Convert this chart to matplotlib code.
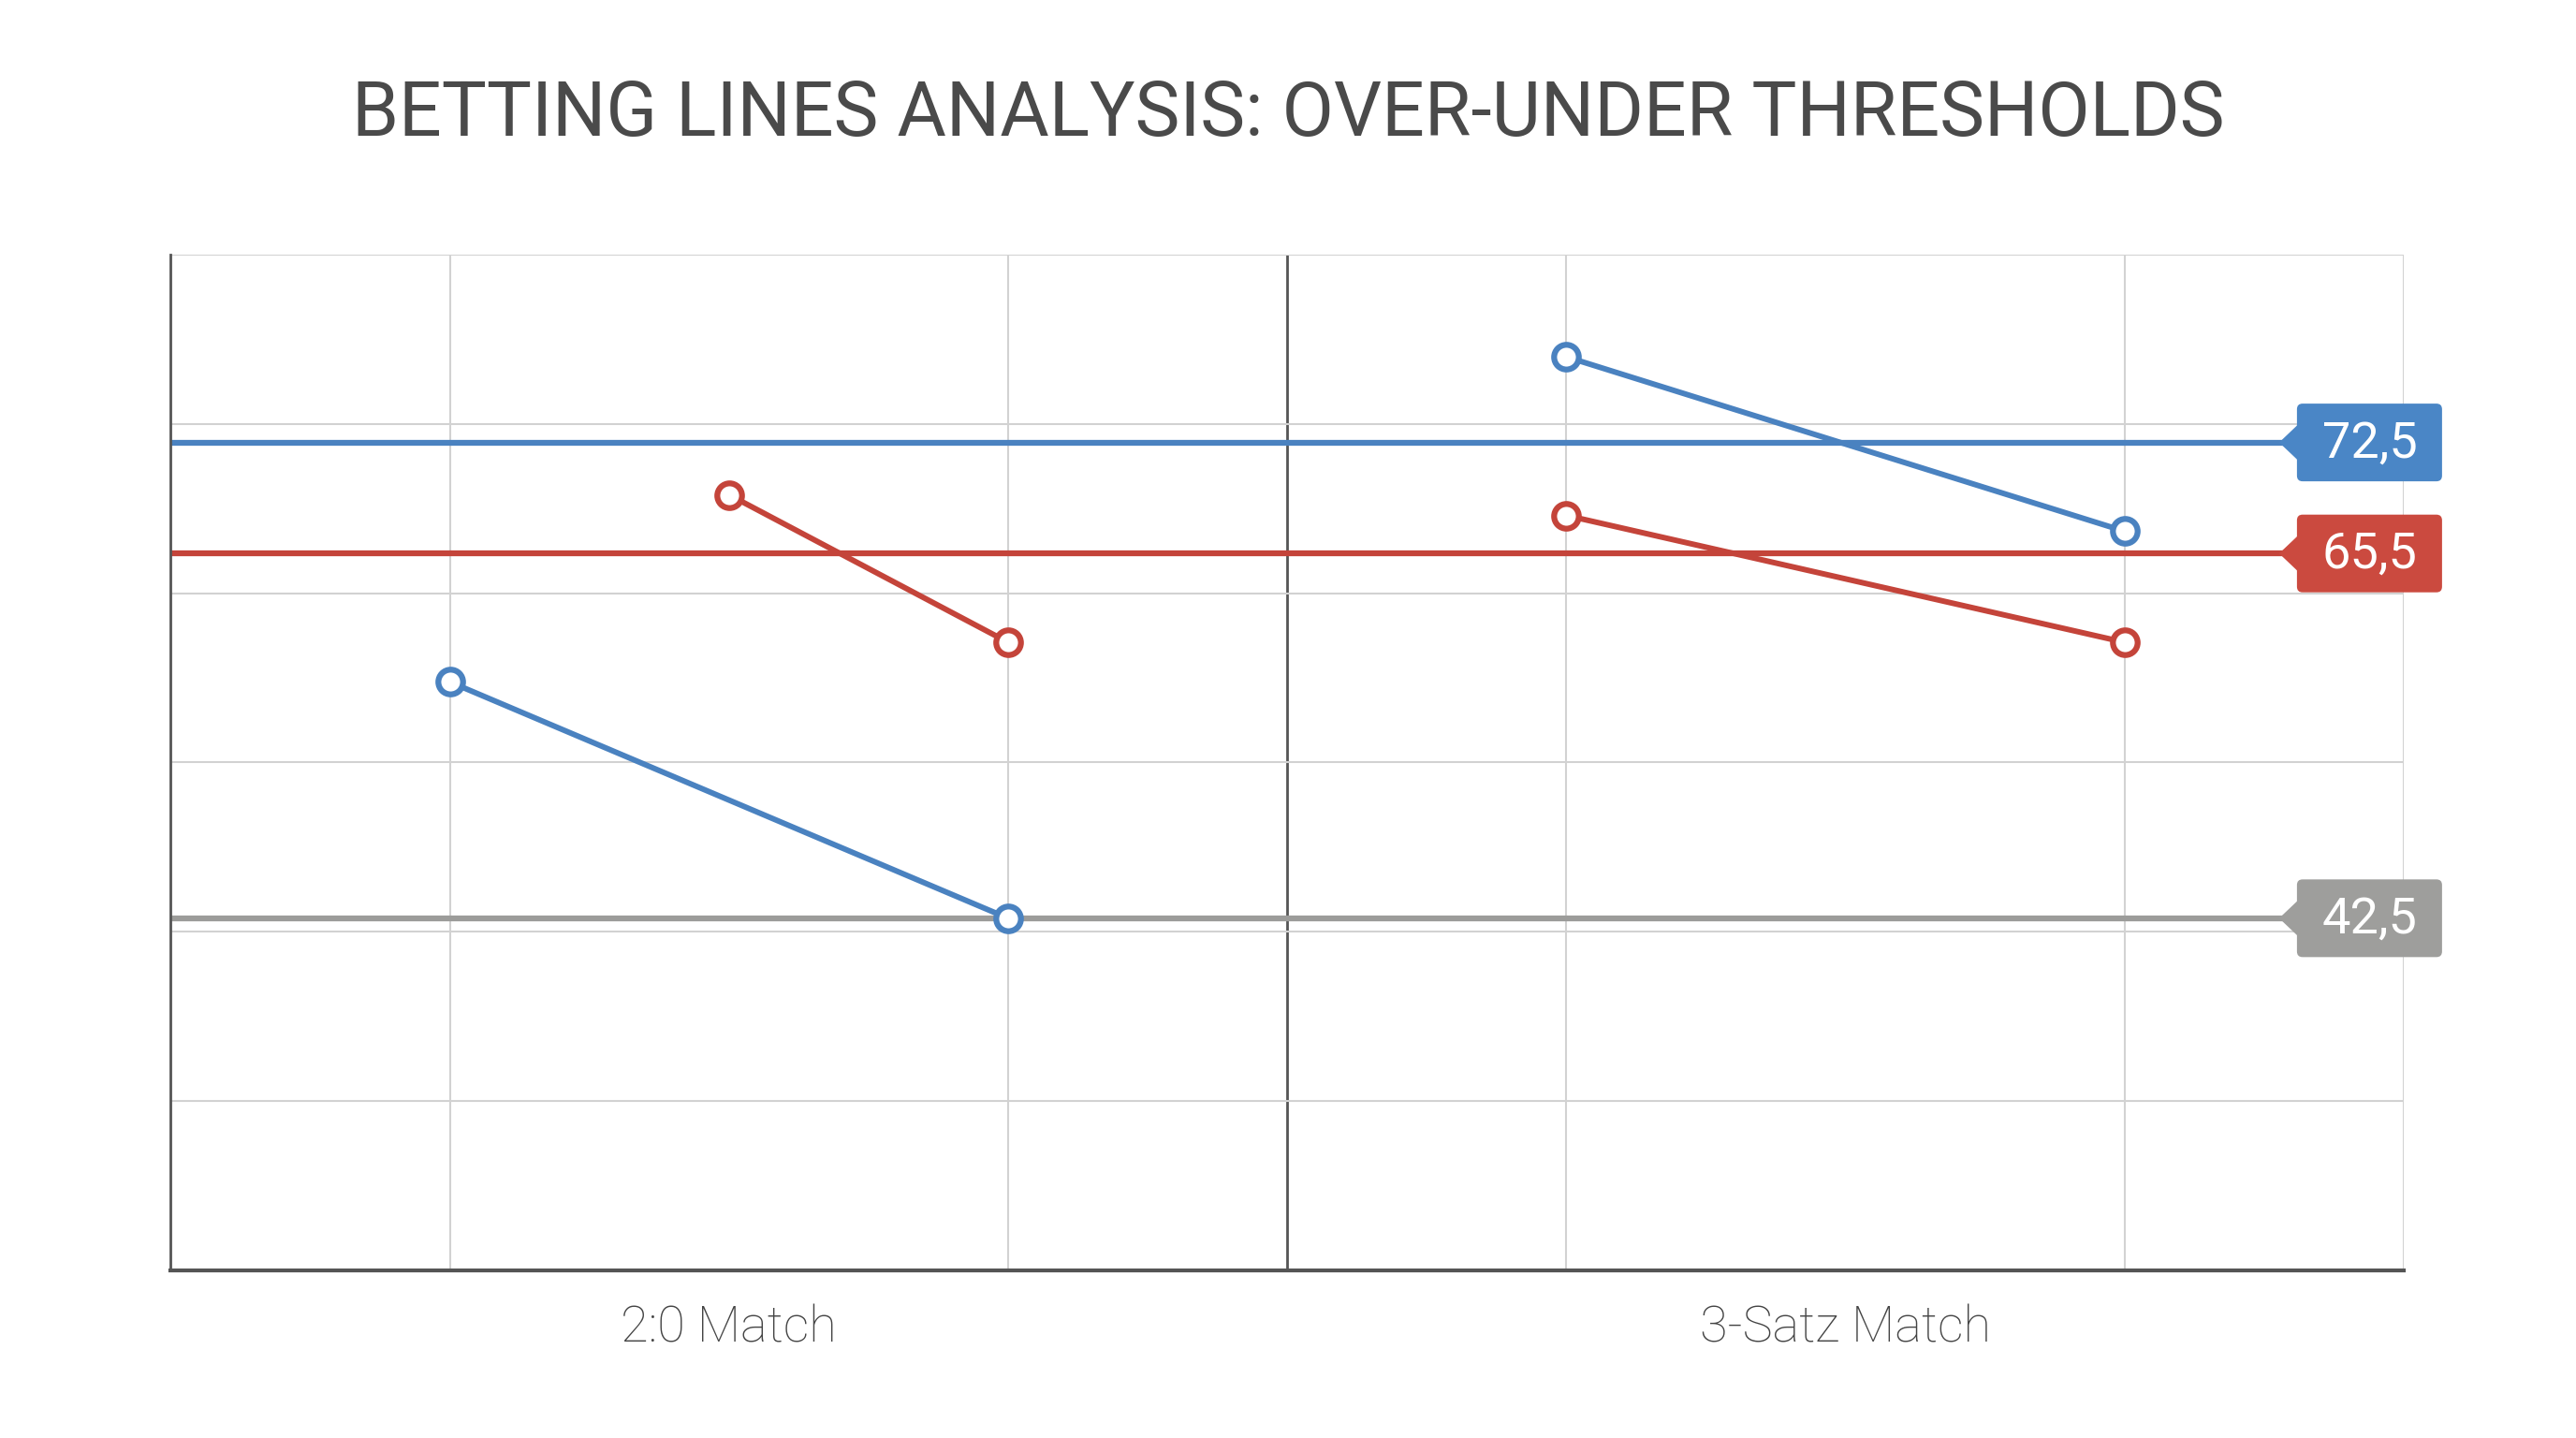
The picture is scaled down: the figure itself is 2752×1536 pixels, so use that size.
import numpy as np
import matplotlib.pyplot as plt
import matplotlib.transforms as mtransforms
from matplotlib.patches import FancyBboxPatch, Polygon

# data
categories = ['2:0 Match', '3-Satz Match']
cat_pos = [2, 6]
thresholds = [72.5, 65.5, 42.5]
threshold_labels = ['72,5', '65,5', '42,5']

blue_20_x = [1, 3]
blue_20_y = [57.4, 42.5]
red_20_x = [2, 3]
red_20_y = [69.2, 59.9]
blue_3s_x = [5, 7]
blue_3s_y = [77.9, 66.9]
red_3s_x = [5, 7]
red_3s_y = [67.9, 59.9]

c_blue = '#4a82c0'
c_red = '#c4443a'
c_gray = '#9c9c9a'
tag_cols = ['#4a86c6', '#cb4a3f', '#9e9e9c']
line_cols = [c_blue, c_red, c_gray]

plt.rcParams['font.family'] = ['Roboto', 'DejaVu Sans']

fig = plt.figure(figsize=(27.52, 15.36), dpi=100)
fig.patch.set_facecolor('white')
ax = fig.add_axes([0.0663, 0.1166, 0.8668, 0.7064])

ymin, ymax = 20.3, 84.35
ax.set_xlim(0, 8)
ax.set_ylim(ymin, ymax)

# grid
ax.set_xticks([1, 2, 3, 5, 6, 7, 8], minor=True)
ax.set_yticks(np.linspace(ymin, ymax, 7))
ax.grid(True, which='minor', axis='x', color='#d2d2d2', lw=1.5, zorder=0)
ax.grid(True, which='major', axis='y', color='#d2d2d2', lw=1.5, zorder=0)
ax.axvline(4, color='#555555', lw=2, zorder=1)
ax.tick_params(axis='y', left=False, labelleft=False)
ax.tick_params(axis='x', which='both', length=0, pad=26,
               labelsize=39, labelcolor='#444444')
ax.set_xticks(cat_pos)
ax.set_xticklabels(categories, fontweight='light')

for s in ['top', 'right']:
    ax.spines[s].set_visible(False)
ax.spines['left'].set_color('#555555')
ax.spines['left'].set_linewidth(2)
ax.spines['bottom'].set_color('#555555')
ax.spines['bottom'].set_linewidth(3)

# threshold lines + tags
for v, lab, lc, tc in zip(thresholds, threshold_labels, line_cols, tag_cols):
    ax.axhline(v, color=lc, lw=4.5, zorder=2)
    trans = fig.dpi_scale_trans + mtransforms.ScaledTranslation(8, v, ax.transData)
    box = FancyBboxPatch((-1.14, -0.415), 1.55, 0.83,
                         boxstyle='round,pad=0,rounding_size=0.06',
                         fc=tc, ec='none', transform=trans, clip_on=False, zorder=5)
    ax.add_patch(box)
    tri = Polygon([[-1.33, 0], [-1.13, 0.19], [-1.13, -0.19]], closed=True,
                  fc=tc, ec='none', transform=trans, clip_on=False, zorder=5)
    ax.add_patch(tri)
    ax.text(-0.365, -0.01, lab, transform=trans, ha='center', va='center',
            fontsize=39, color='white', zorder=6)

# data lines
mk = dict(marker='o', markersize=19, markerfacecolor='white',
          markeredgewidth=4.5, lw=4.3, zorder=4, clip_on=False)
ax.plot(blue_20_x, blue_20_y, color=c_blue, **mk)
ax.plot(red_20_x, red_20_y, color=c_red, **mk)
ax.plot(blue_3s_x, blue_3s_y, color=c_blue, **mk)
ax.plot(red_3s_x, red_3s_y, color=c_red, **mk)

fig.text(0.5, 0.92, 'BETTING LINES ANALYSIS: OVER-UNDER THRESHOLDS',
         ha='center', va='center', fontsize=58, color='#4a4a4a')

fig.savefig('out.png', dpi=100)
